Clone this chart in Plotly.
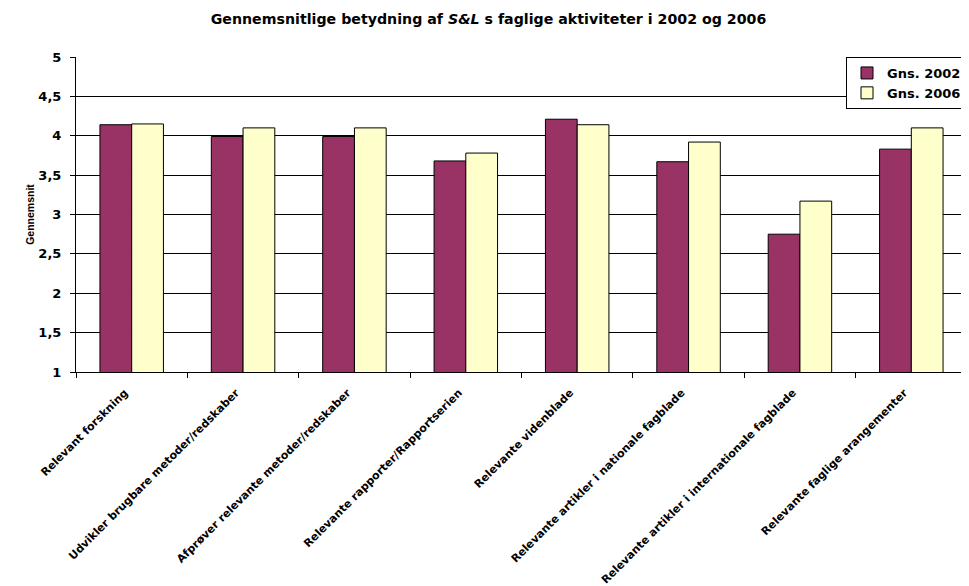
import plotly.graph_objects as go

# Data
categories = [
    "Relevant forskning",
    "Udvikler brugbare metoder/redskaber",
    "Afprøver relevante metoder/redskaber",
    "Relevante rapporter/Rapportserien",
    "Relevante videnblade",
    "Relevante artikler i nationale fagblade",
    "Relevante artikler i internationale fagblade",
    "Relevante faglige arangementer",
]
gns_2002 = [4.14, 3.99, 3.99, 3.68, 4.21, 3.67, 2.75, 3.83]
gns_2006 = [4.15, 4.10, 4.10, 3.78, 4.14, 3.92, 3.17, 4.10]

wide = "DejaVu Sans, Arial, sans-serif"
narrow = "Liberation Sans, Arial, sans-serif"

fig = go.Figure()
fig.add_trace(go.Bar(
    x=categories, y=gns_2002, name="<b>Gns. 2002</b>",
    marker=dict(color="#993366", line=dict(color="black", width=1)),
))
fig.add_trace(go.Bar(
    x=categories, y=gns_2006, name="<b>Gns. 2006</b>",
    marker=dict(color="#FFFFCC", line=dict(color="black", width=1)),
))

# the page adds an 8px body margin, so the figure is 8px smaller and margins shifted
fig.update_layout(
    width=961,
    height=578,
    margin=dict(l=68, r=2, t=49, b=214, autoexpand=False),
    paper_bgcolor="white",
    plot_bgcolor="white",
    separators=", ",
    font=dict(family=wide, color="black"),
    title=dict(
        text="<b>Gennemsnitlige betydning af <i>S&amp;L</i> s faglige aktiviteter i 2002 og 2006</b>",
        x=0.5, xanchor="center", y=0.981, yanchor="middle",
        font=dict(size=14.2, family=wide),
    ),
    barmode="group",
    bargap=0.43,
    bargroupgap=0,
    showlegend=True,
    legend=dict(
        x=1, xanchor="right", y=1, yanchor="top",
        bgcolor="white", bordercolor="black", borderwidth=1,
        font=dict(size=13, family=wide),
        traceorder="normal",
        itemwidth=30,
    ),
)

fig.update_xaxes(
    automargin=False,
    showline=True, linecolor="black", linewidth=1,
    ticks="outside", tickson="boundaries", ticklen=5, tickcolor="black",
    tickangle=-45,
    ticklabelstandoff=9,
    ticklabelshift=-7,
    tickfont=dict(size=11, family=wide),
    tickprefix="<b>", ticksuffix="</b>",
)
fig.update_yaxes(
    automargin=False,
    range=[1, 5], dtick=0.5,
    showline=True, linecolor="black", linewidth=1, mirror=True,
    ticks="outside", ticklen=5, tickcolor="black",
    ticklabelstandoff=6,
    showgrid=True, gridcolor="black", gridwidth=1,
    tickfont=dict(size=13, family=wide),
    tickprefix="<b>", ticksuffix="</b>",
    title=dict(text="<b>Gennemsnit</b>", font=dict(size=10.5, family=narrow), standoff=1),
)

fig.write_html("out.html")
